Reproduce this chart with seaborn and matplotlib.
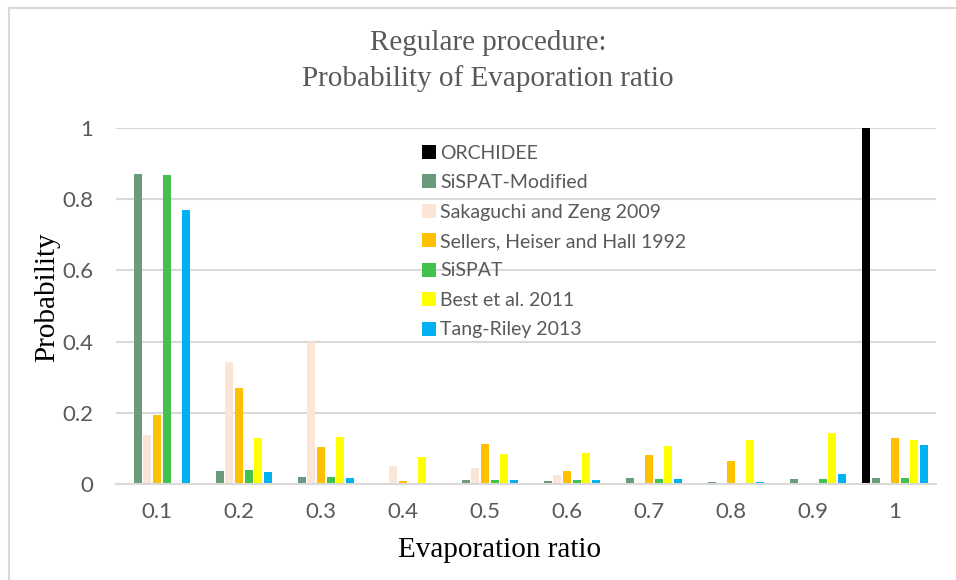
import matplotlib
matplotlib.use("Agg")
import matplotlib.pyplot as plt
from matplotlib.patches import Rectangle
import seaborn as sns
import pandas as pd

# Evaporation-ratio bins
ratios = ["0.1", "0.2", "0.3", "0.4", "0.5", "0.6", "0.7", "0.8", "0.9", "1"]

models = [
    "ORCHIDEE",
    "SiSPAT-Modified",
    "Sakaguchi and Zeng 2009",
    "Sellers, Heiser and Hall 1992",
    "SiSPAT",
    "Best et al. 2011",
    "Tang-Riley 2013",
]

orchidee       = [0.0, 0.0, 0.0, 0.0, 0.0, 0.0, 0.0, 0.0, 0.0, 1.0]
sispat_mod     = [0.87, 0.037, 0.02, 0.002, 0.011, 0.008, 0.017, 0.005, 0.014, 0.017]
sakaguchi_zeng = [0.138, 0.343, 0.40, 0.05, 0.046, 0.025, 0.0, 0.003, 0.002, 0.0]
sellers        = [0.195, 0.269, 0.104, 0.008, 0.113, 0.036, 0.081, 0.065, 0.0, 0.128]
sispat         = [0.868, 0.038, 0.02, 0.002, 0.011, 0.011, 0.014, 0.004, 0.014, 0.017]
best_2011      = [0.0, 0.128, 0.132, 0.076, 0.083, 0.088, 0.108, 0.124, 0.142, 0.123]
tang_riley     = [0.77, 0.034, 0.018, 0.002, 0.01, 0.01, 0.014, 0.006, 0.027, 0.109]

colors = ["#000000", "#699A7B", "#FBE5D6", "#FFC000", "#43C04E", "#FFFF00", "#00B0F0"]

series = [orchidee, sispat_mod, sakaguchi_zeng, sellers, sispat, best_2011, tang_riley]
rows = []
for name, vals in zip(models, series):
    for r, v in zip(ratios, vals):
        rows.append({"ratio": r, "model": name, "prob": v})
df = pd.DataFrame(rows)

sns.set_theme(style="white")
plt.rcParams["font.family"] = ["Lato", "DejaVu Sans"]

W, H = 956, 580
fig = plt.figure(figsize=(W / 100, H / 100), dpi=100)
ax = fig.add_axes([116 / W, 1 - 484 / H, 820 / W, 356 / H])

sns.barplot(data=df, x="ratio", y="prob", hue="model", order=ratios,
            hue_order=models, palette=colors, width=0.83, gap=0.17,
            linewidth=0, saturation=1, ax=ax)

ax.set_xlim(-0.5, len(ratios) - 0.5)
ax.set_ylim(0, 1)
ax.set_yticks([0, 0.2, 0.4, 0.6, 0.8, 1.0])
ax.set_yticklabels(["0", "0.2", "0.4", "0.6", "0.8", "1"])
ax.yaxis.grid(True, color="#d9d9d9", linewidth=1.5)
ax.set_axisbelow(True)
for s in ["left", "right", "top"]:
    ax.spines[s].set_visible(False)
ax.spines["bottom"].set_color("#d9d9d9")
ax.spines["bottom"].set_linewidth(1.5)
ax.tick_params(axis="both", length=0, labelsize=16, labelcolor="#595959")
ax.tick_params(axis="y", pad=16.5)
ax.tick_params(axis="x", pad=13)

ax.set_xlabel("")
ax.set_ylabel("")
fig.text(500 / W, 1 - 550 / H, "Evaporation ratio", ha="center", va="center",
         family="Liberation Serif", fontsize=21, color="black")
fig.text(47 / W, 1 - 297 / H, "Probability", ha="center", va="center", rotation=90,
         family="Liberation Serif", fontsize=21, color="black")

fig.text(488 / W, 1 - 43 / H, "Regulare procedure:", ha="center", va="center",
         family="Liberation Serif", fontsize=21, color="#595959")
fig.text(488 / W, 1 - 79 / H, "Probability of Evaporation ratio", ha="center", va="center",
         family="Liberation Serif", fontsize=21, color="#595959")

leg = ax.legend(loc="upper left", bbox_to_anchor=(412 / W, 1 - 135 / H),
                bbox_transform=fig.transFigure, frameon=False,
                fontsize=14, handlelength=0.72, handleheight=0.72,
                handletextpad=0.22, labelspacing=0.64, borderpad=0)
for t in leg.get_texts():
    t.set_color("#595959")

# chart-area frame
fig.patches.append(Rectangle((8.5 / W, -0.1), 1.2, 1.1 - 7.5 / H,
                             transform=fig.transFigure, fill=False,
                             edgecolor="#d9d9d9", linewidth=1.5))

fig.savefig("out.png", dpi=100)
